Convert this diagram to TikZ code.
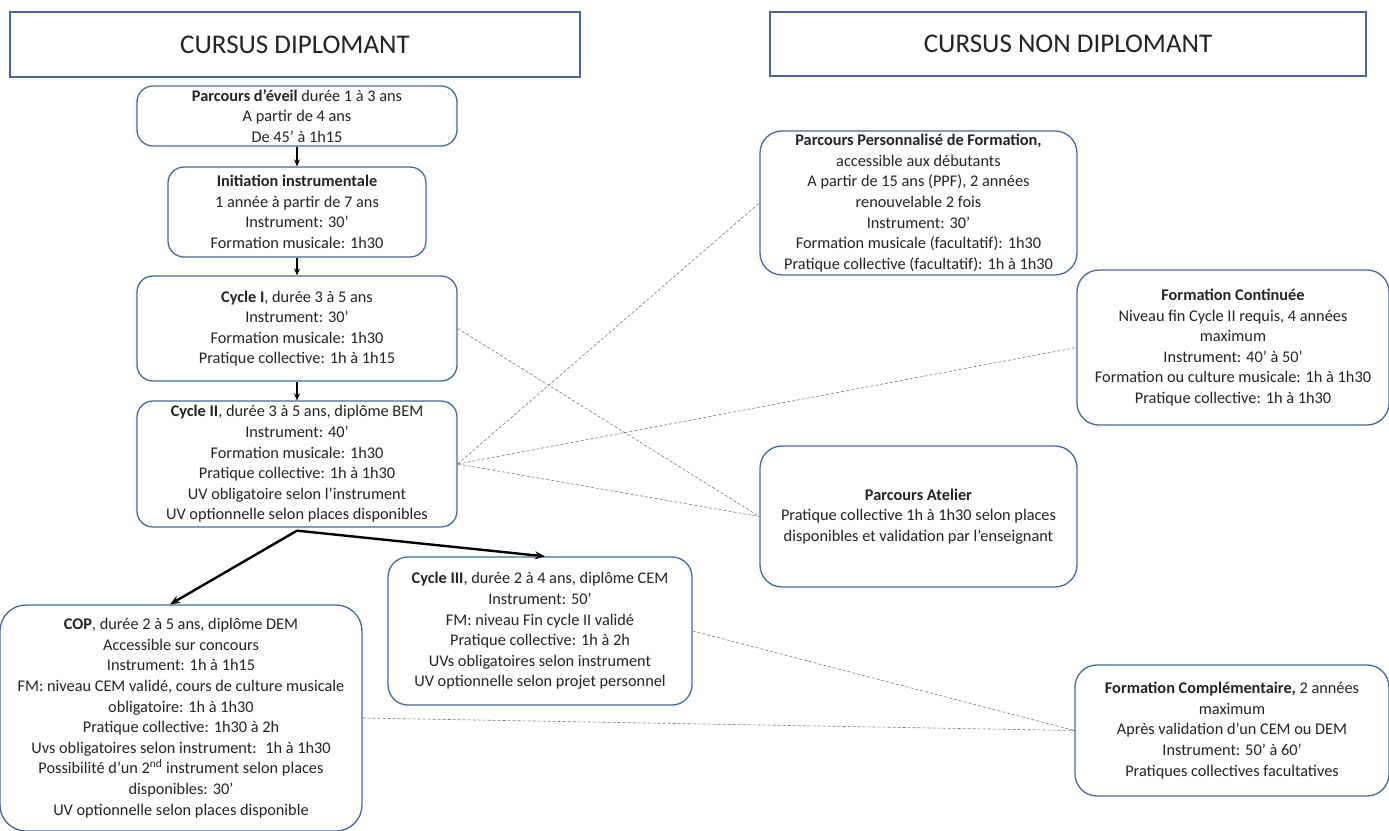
\documentclass[tikz,border=0pt]{standalone}
\usepackage{fontspec}
\setmainfont{Carlito}
\usetikzlibrary{arrows.meta,calc}
\definecolor{boxblue}{RGB}{68,105,160}
\definecolor{txt}{RGB}{35,35,35}
\definecolor{dashgray}{RGB}{120,120,120}
\begin{document}
\begin{tikzpicture}[x=1pt,y=-1pt,
  box/.style={draw=boxblue,line width=1.3pt,rounded corners=16pt,align=center,inner sep=0pt,
    text=txt,font=\fontsize{16.3}{20.6}\selectfont},
  head/.style={draw=boxblue,line width=1.3pt,inner sep=0pt,text=txt,font=\fontsize{27}{30}\selectfont},
  arr/.style={-{Stealth[length=7pt,width=6pt]},line width=1.4pt,black},
  bigarr/.style={-{Stealth[length=10pt,width=8pt]},line width=2.4pt,black},
  dline/.style={densely dashed,line width=0.6pt,dashgray}]
\useasboundingbox (0,0) rectangle (1389,830);
\fill[white] (0,0) rectangle (1389,830);

\node[head,minimum width=570pt,minimum height=65pt] (h1) at (295,44.5) {CURSUS DIPLOMANT};
\node[head,minimum width=596pt,minimum height=64pt] (h2) at (1068,44) {CURSUS NON DIPLOMANT};

\node[box,minimum width=320pt,minimum height=60pt] (eveil) at (297,116)
  {\textbf{Parcours d’éveil} durée 1 à 3 ans\\A partir de 4 ans\\De 45’ à 1h15};
\node[box,minimum width=258pt,minimum height=90pt] (init) at (297,212)
  {\textbf{Initiation instrumentale}\\1 année à partir de 7 ans\\Instrument: 30’\\Formation musicale: 1h30};
\node[box,minimum width=320pt,minimum height=105pt] (c1) at (297,328.5)
  {\textbf{Cycle I}, durée 3 à 5 ans\\Instrument: 30’\\Formation musicale: 1h30\\Pratique collective: 1h à 1h15};
\node[box,minimum width=320pt,minimum height=126pt] (c2) at (297,464)
  {\textbf{Cycle II}, durée 3 à 5 ans, diplôme BEM\\Instrument: 40’\\Formation musicale: 1h30\\Pratique collective: 1h à 1h30\\UV obligatoire selon l’instrument\\UV optionnelle selon places disponibles};
\node[box,rounded corners=26pt,minimum width=362pt,minimum height=226pt] (cop) at (181,718)
  {\textbf{COP}, durée 2 à 5 ans, diplôme DEM\\Accessible sur concours\\Instrument: 1h à 1h15\\FM: niveau CEM validé, cours de culture musicale\\obligatoire: 1h à 1h30\\Pratique collective: 1h30 à 2h\\Uvs obligatoires selon instrument:~ 1h à 1h30\\Possibilité d'un 2\textsuperscript{nd} instrument selon places\\disponibles: 30’\\UV optionnelle selon places disponible};
\node[box,rounded corners=20pt,minimum width=304pt,minimum height=148pt] (c3) at (540,631)
  {\textbf{Cycle III}, durée 2 à 4 ans, diplôme CEM\\Instrument: 50’\\FM: niveau Fin cycle II validé\\Pratique collective: 1h à 2h\\UVs obligatoires selon instrument\\UV optionnelle selon projet personnel};

\node[box,rounded corners=22pt,minimum width=317pt,minimum height=144pt] (ppf) at (918.5,203)
  {\textbf{Parcours Personnalisé de Formation,}\\accessible aux débutants\\A partir de 15 ans (PPF), 2 années\\renouvelable 2 fois\\Instrument: 30’\\Formation musicale (facultatif): 1h30\\Pratique collective (facultatif): 1h à 1h30};
\node[box,rounded corners=22pt,minimum width=312pt,minimum height=155pt] (fc) at (1233,347.5)
  {\textbf{Formation Continuée}\\Niveau fin Cycle II requis, 4 années\\maximum\\Instrument: 40’ à 50’\\Formation ou culture musicale: 1h à 1h30\\Pratique collective: 1h à 1h30};
\node[box,rounded corners=22pt,minimum width=317pt,minimum height=141pt] (atelier) at (918.5,516.5)
  {\textbf{Parcours Atelier}\\Pratique collective 1h à 1h30 selon places\\disponibles et validation par l’enseignant};
\node[box,rounded corners=22pt,minimum width=314pt,minimum height=131pt] (fcomp) at (1232,730.5)
  {\textbf{Formation Complémentaire,} 2 années\\maximum\\Après validation d’un CEM ou DEM\\Instrument: 50’ à 60’\\Pratiques collectives facultatives};

\draw[arr] (eveil.south) -- (init.north);
\draw[arr] (init.south) -- (c1.north);
\draw[arr] (c1.south) -- (c2.north);
\coordinate (split) at ($(c2.south)+(0,3)$);
\coordinate (copin) at ($(cop.north)+(-11,0)$);
\coordinate (c3in) at ($(c3.north)+(5,0)$);
\draw[bigarr] (split) -- (copin);
\draw[bigarr] (split) -- (c3in);

\draw[dline] (c1.east) -- (atelier.west);
\draw[dline] (c2.east) -- (ppf.west);
\draw[dline] (c2.east) -- (fc.west);
\draw[dline] (c2.east) -- (atelier.west);
\draw[dline] (c3.east) -- (fcomp.west);
\draw[dline] (cop.east) -- (fcomp.west);
\end{tikzpicture}
\end{document}
